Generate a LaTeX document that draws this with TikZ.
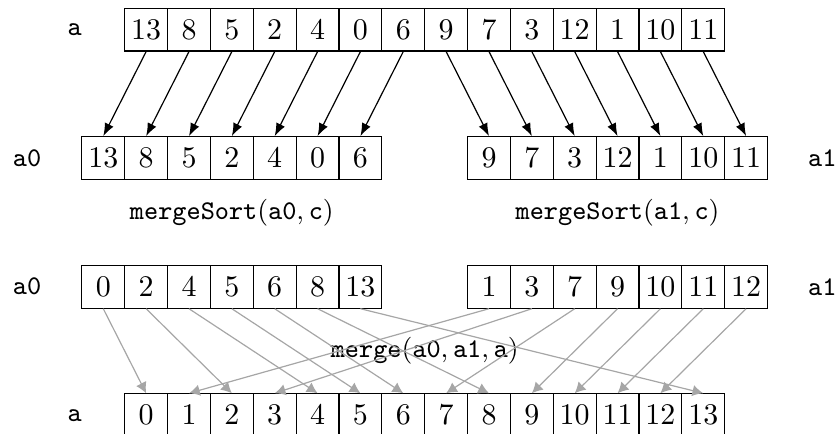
\documentclass[tikz,border=0pt]{standalone}
\usepackage{tikz}
\usetikzlibrary{positioning,arrows.meta}

\begin{document}
\begin{tikzpicture}[x=14.3pt, y=14.3pt,
    cell/.style={rectangle, draw, minimum size=14.3pt, inner sep=0pt},
    arrname/.style={font=\small\ttfamily},
    call/.style={font=\small},
    arrow/.style={-{Latex[length=4.3pt,width=3.2pt]}},
    mergearrow/.style={black!35, -{Latex[length=3.6pt,width=3.8pt]}}
]
\useasboundingbox (-1.91,0.19) rectangle (17.62,-9.92);
% input array
\foreach \v [count=\i from 0] in {13,8,5,2,4,0,6,9,7,3,12,1,10,11}
    \node[cell] (in\i) at (1.5+\i,-0.5) {$\v$};
% split halves
\foreach \v [count=\i from 0] in {13,8,5,2,4,0,6}
    \node[cell] (lo\i) at (0.5+\i,-3.5) {$\v$};
\foreach \v [count=\i from 0] in {9,7,3,12,1,10,11}
    \node[cell] (hi\i) at (9.5+\i,-3.5) {$\v$};
% sorted halves
\foreach \v [count=\i from 0] in {0,2,4,5,6,8,13}
    \node[cell] (slo\i) at (0.5+\i,-6.5) {$\v$};
\foreach \v [count=\i from 0] in {1,3,7,9,10,11,12}
    \node[cell] (shi\i) at (9.5+\i,-6.5) {$\v$};
% merged array
\foreach \i in {0,...,13}
    \node[cell] (out\i) at (1.5+\i,-9.5) {$\i$};
% labels
\node[arrname, left=10.6pt of in0] (nin) {a};
\node[arrname, left=9.8pt of lo0] (nlo) {a0};
\node[arrname, right=9.8pt of hi6] (nhi) {a1};
\node[arrname, left=9.8pt of slo0] (nslo) {a0};
\node[arrname, right=9.8pt of shi6] (nshi) {a1};
\node[arrname, left=10.6pt of out0] (nout) {a};
\node[call] (sortlo) at (3.5,-4.78) {$\mathtt{mergeSort}(\mathtt{a0},\mathtt{c})$};
\node[call] (sorthi) at (12.5,-4.78) {$\mathtt{mergeSort}(\mathtt{a1},\mathtt{c})$};
\node[call] (merge) at (8,-8) {$\mathtt{merge}(\mathtt{a0},\mathtt{a1},\mathtt{a})$};
% split arrows
\foreach \i [evaluate=\i as \j using int(\i+7)] in {0,...,6} {
    \draw[arrow] (in\i.south) -- (lo\i.north);
    \draw[arrow] (in\j.south) -- (hi\i.north);
}
% merge arrows
\foreach \v [count=\i from 0] in {0,2,4,5,6,8,13}
    \draw[mergearrow] (slo\i.south) -- (out\v.north);
\foreach \v [count=\i from 0] in {1,3,7,9,10,11,12}
    \draw[mergearrow] (shi\i.south) -- (out\v.north);
\end{tikzpicture}
\end{document}
